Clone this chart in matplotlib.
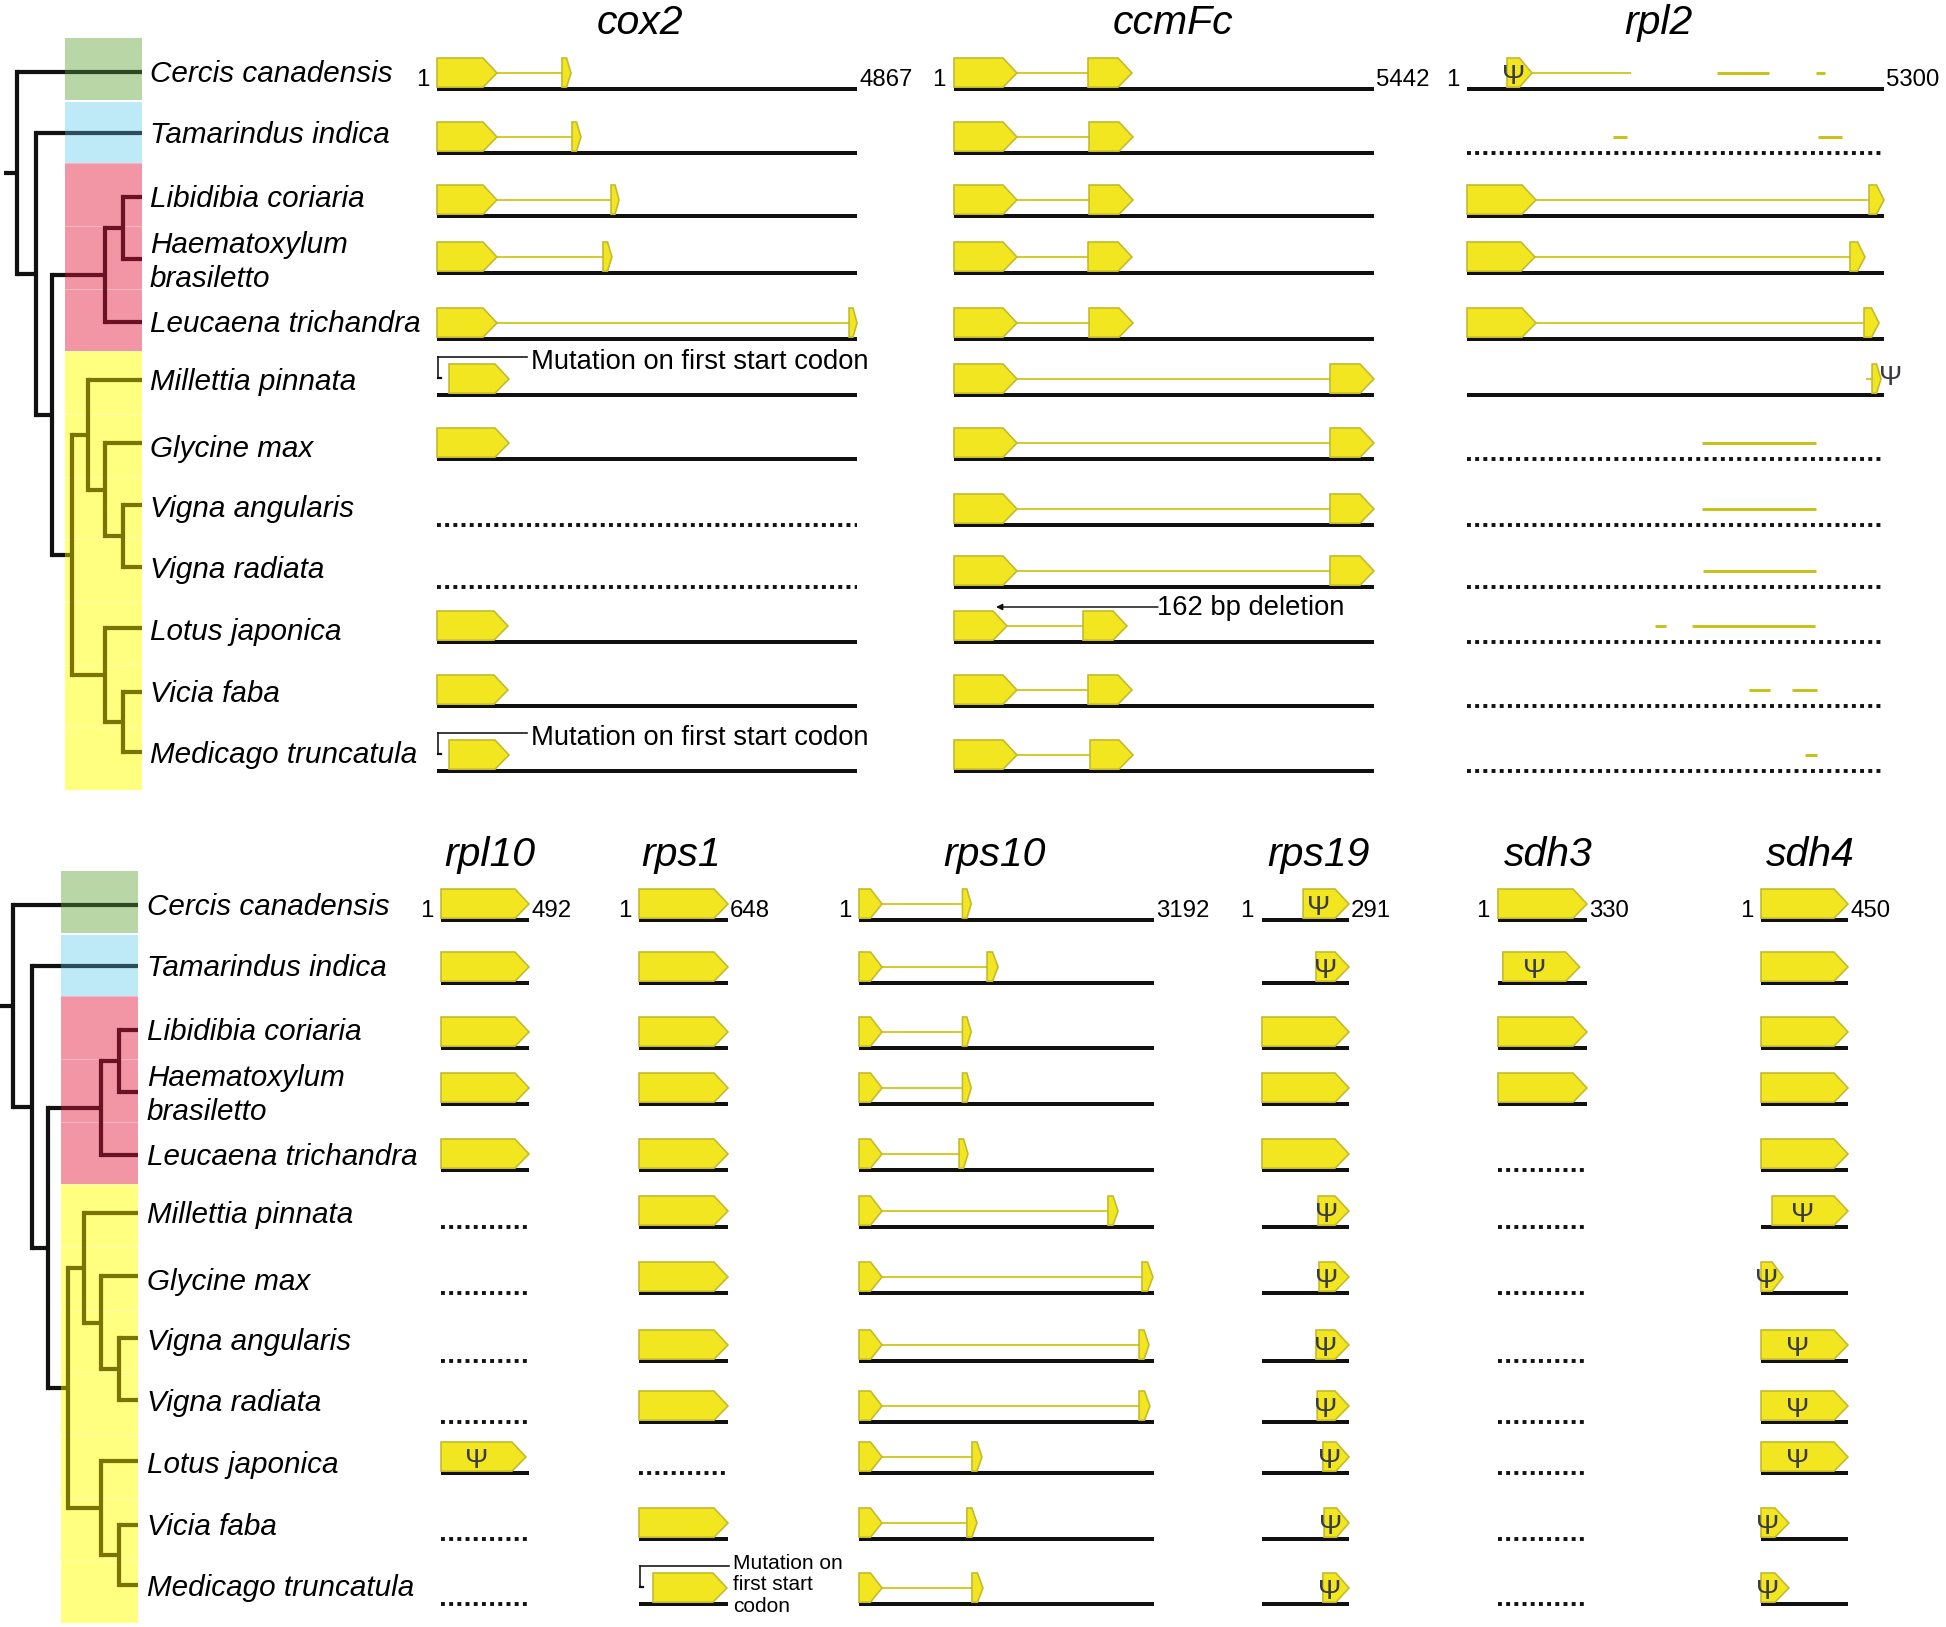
import matplotlib
matplotlib.use("Agg")
import matplotlib.pyplot as plt
from matplotlib.patches import Polygon, Rectangle

plt.rcParams["font.family"] = ["Liberation Sans", "DejaVu Sans"]

W, H, DPI = 1946, 1627, 100
PT = 72.0 / DPI  # points per pixel

# ---------------- data ----------------
species = ["Cercis canadensis", "Tamarindus indica", "Libidibia coriaria",
           "Haematoxylum\nbrasiletto", "Leucaena trichandra", "Millettia pinnata",
           "Glycine max", "Vigna angularis", "Vigna radiata", "Lotus japonica",
           "Vicia faba", "Medicago truncatula"]
clade_of_row = [0, 1, 2, 2, 2, 3, 3, 3, 3, 3, 3, 3]
clade_fill = ["#b9d7a6", "#bee9f7", "#f295a5", "#ffff80"]
clade_line = ["#2e4a24", "#2c4d5c", "#6b1124", "#7a7404"]

# tree topology: (node depth px, [children]); ints are species rows
tree = (17, [0, (36, [1, (52, [(105, [(123, [2, 3]), 4]),
                               (72, [(88, [5, (105, [6, (123, [7, 8])])]),
                                     (105, [9, (123, [10, 11])])])])])])

top_genes = ["cox2", "ccmFc", "rpl2"]
top_lengths = [4867, 5442, 5300]
bottom_genes = ["rpl10", "rps1", "rps10", "rps19", "sdh3", "sdh4"]
bottom_lengths = [492, 648, 3192, 291, 330, 450]

cox2_exons = [
    [(1, 696), (1449, 1554)],
    [(1, 696), (1565, 1669)],
    [(1, 696), (2017, 2110)],
    [(1, 696), (1924, 2028)],
    [(1, 696), (4775, 4867)],
    [(140, 835)],
    [(1, 835)],
    None, None,
    [(1, 823)],
    [(1, 823)],
    [(140, 835)],
]
ccmFc_exons = [
    [(1, 817), (1737, 2307)],
    [(1, 817), (1750, 2320)],
    [(1, 817), (1750, 2320)],
    [(1, 817), (1737, 2307)],
    [(1, 817), (1750, 2320)],
    [(1, 817), (4872, 5442)],
    [(1, 817), (4872, 5442)],
    [(1, 817), (4872, 5442)],
    [(1, 817), (4872, 5442)],
    [(1, 688), (1672, 2242)],
    [(1, 817), (1737, 2307)],
    [(1, 817), (1763, 2320)],
]
rpl2_exons = [
    [(509, 827)],
    None,
    [(1, 878), (5110, 5300)],
    [(1, 865), (4868, 5059)],
    [(1, 878), (5046, 5237)],
    [(5148, 5262)],
    None, None, None, None, None, None,
]
rpl10_exons = [[(1, 492)]] * 5 + [None] * 4 + [[(1, 475)]] + [None] * 2
rps1_exons = [[(1, 648)]] * 9 + [None] + [[(1, 648)], [(103, 640)]]
rps10_exons = [
    [(1, 250), (1120, 1215)],
    [(1, 250), (1386, 1505)],
    [(1, 250), (1120, 1215)],
    [(1, 250), (1120, 1215)],
    [(1, 250), (1083, 1180)],
    [(1, 250), (2694, 2803)],
    [(1, 250), (3062, 3181)],
    [(1, 250), (3030, 3138)],
    [(1, 250), (3030, 3148)],
    [(1, 250), (1223, 1331)],
    [(1, 250), (1168, 1277)],
    [(1, 250), (1223, 1342)],
]
rps19_exons = [
    [(138, 291)], [(181, 291)], [(1, 291)], [(1, 291)], [(1, 291)],
    [(188, 291)], [(191, 291)], [(181, 291)], [(185, 291)],
    [(204, 291)], [(208, 291)], [(204, 291)],
]
sdh3_exons = [[(1, 330)], [(19, 303)], [(1, 330)], [(1, 330)]] + [None] * 8
sdh4_exons = [[(1, 450)]] * 5 + [[(58, 450)], [(1, 115)], [(1, 450)], [(1, 450)],
                                 [(1, 450)], [(1, 145)], [(1, 145)]]

exons = {"cox2": cox2_exons, "ccmFc": ccmFc_exons, "rpl2": rpl2_exons,
         "rpl10": rpl10_exons, "rps1": rps1_exons, "rps10": rps10_exons,
         "rps19": rps19_exons, "sdh3": sdh3_exons, "sdh4": sdh4_exons}

# fragments of rpl2 similarity (bp ranges) per species row
rpl2_fragments = [
    [(3178, 3839), (4436, 4550)],
    [(1857, 2035), (4462, 4767)],
    [], [], [], [],
    [(2988, 4436)],
    [(2988, 4436)],
    [(3000, 4436)],
    [(2390, 2530), (2860, 4423)],
    [(3585, 3852), (4131, 4449)],
    [(4296, 4449)],
]
fragments = {"rpl2": rpl2_fragments}
dangling_introns = {"rpl2": {0: (827, 2072), 5: (5084, 5148)}}
psi_rows = {"rpl2": [0], "rpl10": [9], "rps19": [0, 1, 5, 6, 7, 8, 9, 10, 11],
            "sdh3": [1], "sdh4": [5, 6, 7, 8, 9, 10, 11]}
psi_outside = {"rpl2": [5]}

annotations = [  # gene, row, kind, text
    ("cox2", 5, "bracket", "Mutation on first start codon"),
    ("cox2", 11, "bracket", "Mutation on first start codon"),
    ("ccmFc", 9, "arrow", "162 bp deletion"),
    ("rps1", 11, "bracket_small", "Mutation on\nfirst start\ncodon"),
]

# ---------------- layout ----------------
top_base = [89, 153, 216, 273, 339, 395, 459, 525, 587, 642, 706, 771]
bot_base = [920, 983, 1048, 1104, 1170, 1227, 1293, 1361, 1422, 1473, 1539, 1604]
top_label_y = [74, 135, 199, 262, 324, 382, 449, 509, 570, 632, 694, 755]
top_leaf_y = [72, 133, 197, 259, 322, 380, 443, 505, 567, 628, 692, 752]
PANEL_DY = 833
gene_x = {"cox2": (437, 857), "ccmFc": (954, 1374), "rpl2": (1467, 1884),
          "rpl10": (441, 529), "rps1": (639, 728), "rps10": (859, 1154),
          "rps19": (1262, 1349), "sdh3": (1498, 1587), "sdh4": (1761, 1848)}
title_x = {"cox2": 640, "ccmFc": 1173, "rpl2": 1658, "rpl10": 490, "rps1": 681,
           "rps10": 995, "rps19": 1318, "sdh3": 1548, "sdh4": 1810}

BLACK = "#111111"
EXON_FILL = "#f2e620"
EXON_EDGE = "#c3b92a"
INTRON = "#d4cb2e"
FRAG = "#c9c21c"
PSI = "#3a3a44"

fig = plt.figure(figsize=(W / DPI, H / DPI), dpi=DPI)
fig.patch.set_facecolor("white")
main = fig.add_axes([0, 0, 1, 1])
main.set_xlim(0, W)
main.set_ylim(H, 0)
main.axis("off")


# ---------------- tree + boxes ----------------
def draw_tree_panel(dx, dy, label_x):
    box_x0, box_x1 = 65 + dx, 142 + dx
    box_top, row_h = 38 + dy, 62.67
    groups = [(0, 1), (1, 2), (2, 5), (5, 12)]
    for ci, (a, b) in enumerate(groups):
        main.add_patch(Rectangle((box_x0, box_top + a * row_h), box_x1 - box_x0,
                                 (b - a) * row_h, facecolor=clade_fill[ci],
                                 edgecolor="none", zorder=1))
    for i in range(1, 12):
        yb = box_top + i * row_h
        main.plot([box_x0, box_x1], [yb, yb], color="white",
                  lw=(2.0 if i == 1 else 1.0) * PT, alpha=(1.0 if i == 1 else 0.35), zorder=1.5)

    leaf_y = [y + dy for y in top_leaf_y]
    segs = []

    def rec(node):
        if isinstance(node, int):
            return leaf_y[node]
        x, kids = node
        ys = []
        for k in kids:
            y = rec(k)
            kx = box_x1 - dx if isinstance(k, int) else k[0]
            segs.append(("h", x, kx, y))
            ys.append(y)
        segs.append(("v", x, min(ys), max(ys)))
        return (min(ys) + max(ys)) / 2

    ry = rec(tree)
    segs.append(("h", 4, tree[0], ry))

    def region_color(y):
        idx = int((y - box_top) // row_h)
        idx = max(0, min(11, idx))
        return clade_line[clade_of_row[idx]]

    lw = 4.2 * PT
    for s in segs:
        if s[0] == "h":
            _, xa, xb, y = s
            xa += dx
            xb += dx
            if xb <= box_x0:
                main.plot([xa, xb], [y, y], color=BLACK, lw=lw, solid_capstyle="butt", zorder=3)
            elif xa >= box_x0:
                main.plot([xa, xb], [y, y], color=region_color(y), lw=lw, solid_capstyle="butt", zorder=3)
            else:
                main.plot([xa, box_x0], [y, y], color=BLACK, lw=lw, solid_capstyle="butt", zorder=3)
                main.plot([box_x0, xb], [y, y], color=region_color(y), lw=lw, solid_capstyle="butt", zorder=3)
        else:
            _, x, ya, yb = s
            x += dx
            col = BLACK if x < box_x0 else region_color((ya + yb) / 2)
            main.plot([x, x], [ya, yb], color=col, lw=lw, solid_capstyle="projecting", zorder=3.1)

    for i, name in enumerate(species):
        main.text(label_x, top_label_y[i] + dy, name, fontsize=21.3, style="italic",
                  ha="left", va="center", linespacing=1.3, color="black")


draw_tree_panel(0, 0, 150)
draw_tree_panel(-4, PANEL_DY, 147)


# ---------------- genes ----------------
def draw_gene(gene, L, bases, title_base):
    x0, x1 = gene_x[gene]
    ax = fig.add_axes([x0 / W, 0, (x1 - x0) / W, 1])
    ax.set_xlim(1, L)
    ax.set_ylim(H, 0)
    ax.axis("off")
    bpp = (L - 1) / (x1 - x0)  # bp per pixel
    rows = exons[gene]
    frs = fragments.get(gene, [[] for _ in range(12)])
    for r, b in enumerate(bases):
        ex = rows[r]
        if ex is None:
            ax.plot([1, L], [b, b], color=BLACK, lw=3.9 * PT, ls=(0, (1, 1.1)),
                    dash_capstyle="butt", clip_on=False, zorder=2)
        else:
            ax.plot([1, L], [b, b], color=BLACK, lw=4.0 * PT, solid_capstyle="butt",
                    clip_on=False, zorder=2)
        top, mid, bot = b - 31, b - 16, b - 1.8
        for (s, e) in frs[r]:
            ax.plot([s, e], [mid, mid], color=FRAG, lw=3.0 * PT, solid_capstyle="butt",
                    clip_on=False, zorder=3)
        if r in dangling_introns.get(gene, {}):
            s, e = dangling_introns[gene][r]
            ax.plot([s, e], [mid, mid], color=INTRON, lw=2.0 * PT, clip_on=False, zorder=3)
        if ex:
            for i, (s, e) in enumerate(ex):
                if i > 0:
                    ax.plot([ex[i - 1][1], s], [mid, mid], color=INTRON, lw=2.0 * PT,
                            clip_on=False, zorder=3)
                wpx = (e - s) / bpp
                tip = min(14.0, 0.5 * wpx) * bpp
                poly = Polygon([(s, bot), (s, top), (e - tip, top), (e, mid), (e - tip, bot)],
                               closed=True, facecolor=EXON_FILL, edgecolor=EXON_EDGE,
                               lw=1.6 * PT, clip_on=False, zorder=4, joinstyle="miter")
                ax.add_patch(poly)
                if r in psi_rows.get(gene, []):
                    xc = (s + e - tip) / 2
                    ax.text(xc, b - 12, "Ψ", fontsize=20, color=PSI,
                            ha="center", va="center", zorder=5)
            if r in psi_outside.get(gene, []):
                ax.text(ex[-1][1] + 10 * bpp, b - 17, "Ψ", fontsize=20, color=PSI,
                        ha="center", va="center", zorder=5)
    b0 = bases[0]
    ax.text(1 - 8 * bpp, b0 - 9, "1", fontsize=17.3, ha="right", va="center")
    ax.text(L + 2 * bpp, b0 - 9, str(L), fontsize=17.3, ha="left", va="center")
    main.text(title_x[gene], title_base, gene, fontsize=29.5, style="italic",
              ha="center", va="baseline")
    return ax


for g, L in zip(top_genes, top_lengths):
    draw_gene(g, L, top_base, 34)
for g, L in zip(bottom_genes, bottom_lengths):
    draw_gene(g, L, bot_base, 866)

# ---------------- annotations ----------------
for gene, row, kind, text in annotations:
    x0, x1 = gene_x[gene]
    bases = top_base if gene in top_genes else bot_base
    b = bases[row]
    if kind in ("bracket", "bracket_small"):
        yt, yb = b - 38, b - 17
        main.plot([x0 + 1, x0 + 90], [yt, yt], color=BLACK, lw=1.6 * PT, zorder=6)
        main.plot([x0 + 1, x0 + 1], [yt, yb], color=BLACK, lw=1.6 * PT, zorder=6)
        main.plot([x0 + 1, x0 + 4], [yb, yb], color=BLACK, lw=2.2 * PT, zorder=6)
        if kind == "bracket":
            main.text(x0 + 94, b - 33, text, fontsize=19.7, ha="left", va="center", zorder=6)
        else:
            main.text(x0 + 94, b - 19, text, fontsize=15, ha="left", va="center",
                      linespacing=1.18, zorder=6)
    else:
        ya = b - 35
        main.annotate("", xy=(x0 + 42, ya), xytext=(x0 + 204, ya),
                      arrowprops=dict(arrowstyle="-|>", color=BLACK, lw=1.5 * PT,
                                      mutation_scale=9, shrinkA=0, shrinkB=0), zorder=6)
        main.text(x0 + 203, ya + 1, text, fontsize=19.7, ha="left", va="center", zorder=6)

fig.savefig("out.png", dpi=DPI, facecolor="white")
